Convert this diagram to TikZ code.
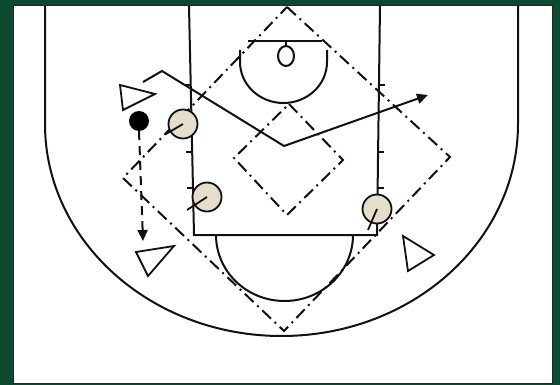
\documentclass[tikz,border=0pt]{standalone}
\usetikzlibrary{arrows.meta}
\definecolor{courtGreen}{HTML}{0B4A31}
\definecolor{courtLine}{HTML}{111111}
\definecolor{playerBeige}{HTML}{E4DECA}

\begin{document}
\begin{tikzpicture}[
    x=1pt, y=-1pt,
    court/.style={draw=courtLine, line width=2pt},
    zone/.style={draw=courtLine, line width=2pt, dash pattern=on 12pt off 5pt on 2pt off 5pt},
    hashmark/.style={draw=courtLine, line width=1.5pt},
    player/.style={
        circle, draw=courtLine, line width=1.8pt, fill=playerBeige,
        minimum size=29pt, inner sep=0pt
    },
    ballnode/.style={circle, fill=black, minimum size=20pt, inner sep=0pt},
    defender/.style={draw=courtLine, line width=1.8pt, fill=white},
    stick/.style={draw=courtLine, line width=1.8pt},
    cutarrow/.style={-{Triangle[length=11pt,width=10pt]}, line width=2pt, draw=courtLine},
    passarrow/.style={-{Triangle[length=11pt,width=10pt]}, line width=2pt, draw=courtLine, dash pattern=on 9pt off 6pt},
]

% Frame
\fill[courtGreen] (0,0) rectangle (560,385);
\draw[fill=white, draw=black!85, line width=1pt] (13,6) rectangle (552,383);
\useasboundingbox (0,0) rectangle (560,385);

% Court lines
\draw[court] (45,6) -- (45,124) arc[start angle=180, end angle=0, x radius=236.5, y radius=212] -- (518,6);
\draw[court] (189,6) -- (194,235) -- (377,235) -- (380,6);
\draw[court] (248,41) -- (322,41);
\draw[court] (286,41) -- (286,46);
\draw[court] (286,56) ellipse[x radius=8, y radius=10];
\draw[court] (240,50) -- (240,62) arc[start angle=180, end angle=0, x radius=43.5, y radius=41] -- (327,50);
\draw[court] (216,235) arc[start angle=180, end angle=0, x radius=68.5, y radius=66];

% Lane hash marks
\foreach \y in {85,152,188} {
    \draw[hashmark] ({183+0.022*(\y-6)},\y) -- ({189+0.022*(\y-6)},\y);
    \draw[hashmark] ({380-0.013*(\y-6)},\y) -- ({386-0.013*(\y-6)},\y);
}

% Zones
\draw[zone] (287,7) -- (450,157) -- (284,331) -- (123,178) -- cycle;
\draw[zone] (289,104) -- (343,160) -- (287,215) -- (234,158) -- cycle;

% Cut
\coordinate (start) at (143,82);
\coordinate (kink) at (162,71);
\coordinate (low) at (284,146);
\coordinate (goal) at (428,95);
\draw[cutarrow] (start) -- (kink) -- (low) -- (goal);

% Ball and pass
\node[ballnode] (ball) at (139,121) {};
\coordinate (catch) at (143,241);
\draw[passarrow] (ball.south) -- (catch);

% Players
\node[player] (p1) at (183,124) {};
\node[player] (p2) at (207,197) {};
\node[player] (p3) at (377,209) {};
\draw[stick] (p1.center) -- ++(-17,10);
\draw[stick] (p2.center) -- ++(-20,13);
\draw[stick] (p3.center) -- ++(-9,21);

% Defenders
\draw[defender] (120,85) -- (155,94) -- (123,110) -- cycle;
\draw[defender] (136,252) -- (174,246) -- (148,276) -- cycle;
\draw[defender] (403,236) -- (434,255) -- (408,271) -- cycle;

\end{tikzpicture}
\end{document}
